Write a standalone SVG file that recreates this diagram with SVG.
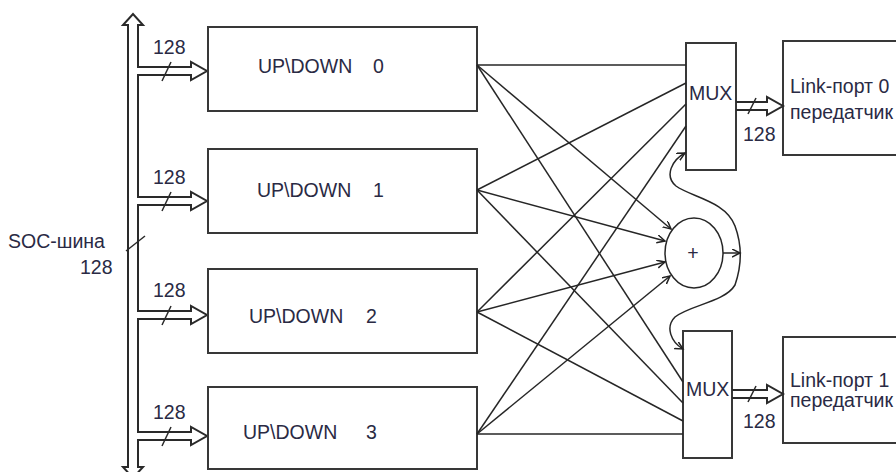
<svg xmlns="http://www.w3.org/2000/svg" width="896" height="472" viewBox="0 0 896 472">
<style>
.box{fill:#fff;stroke:#383838;stroke-width:2}
.t{font-family:"Liberation Sans",Arial,sans-serif;font-size:19.5px;fill:#2a2a44}
.w{fill:none;stroke:#262626;stroke-width:1.5}
.bus{fill:none;stroke:#2a2a2a;stroke-width:2;stroke-linejoin:miter}
.tick{stroke:#2a2a2a;stroke-width:1.5}
</style>
<defs>
<marker id="v" markerWidth="12" markerHeight="12" refX="8" refY="4" orient="auto-start-reverse" markerUnits="userSpaceOnUse">
<path d="M0,0 L8,4 L0,8" fill="none" stroke="#222" stroke-width="1.5"/>
</marker>
</defs>
<rect x="0" y="0" width="896" height="472" fill="#fff"/>

<g id="soc-bus">
<path class="bus" d="M128,467 L128,25 L123,25 L133,14 L143,25 L138,25 L138,67 L191,67 L191,62 L207,71 L191,80 L191,75 L138,75 L138,197 L191,197 L191,192 L207,201 L191,210 L191,205 L138,205 L138,311 L191,311 L191,306 L207,315 L191,324 L191,319 L138,319 L138,432 L191,432 L191,427 L207,436 L191,445 L191,440 L138,440 L138,467 L143,467 L133,478 L123,467 Z"/>
<line class="tick" x1="126" y1="251" x2="145" y2="236"/>
<line class="tick" x1="162" y1="81" x2="171" y2="62"/>
<line class="tick" x1="162" y1="211" x2="171" y2="192"/>
<line class="tick" x1="162" y1="325" x2="171" y2="306"/>
<line class="tick" x1="162" y1="446" x2="171" y2="427"/>
<text class="t" x="8" y="248">SOC-шина</text>
<text class="t" x="80" y="274">128</text>
<text class="t" x="153" y="54">128</text>
<text class="t" x="153" y="184">128</text>
<text class="t" x="153" y="297">128</text>
<text class="t" x="153" y="419">128</text>
</g>

<g id="updown0"><rect class="box" x="208" y="27" width="269" height="84"/><text class="t" x="258" y="73">UP\DOWN<tspan x="373">0</tspan></text></g>
<g id="updown1"><rect class="box" x="208" y="149" width="269" height="84"/><text class="t" x="257" y="197">UP\DOWN<tspan x="373">1</tspan></text></g>
<g id="updown2"><rect class="box" x="208" y="269" width="269" height="84"/><text class="t" x="249" y="323">UP\DOWN<tspan x="366">2</tspan></text></g>
<g id="updown3"><rect class="box" x="208" y="387" width="269" height="82"/><text class="t" x="243" y="439">UP\DOWN<tspan x="366">3</tspan></text></g>

<g id="mux0"><rect class="box" x="686" y="43" width="50" height="127"/><text class="t" x="689" y="100">MUX</text></g>
<g id="mux1"><rect class="box" x="683" y="331" width="49" height="127"/><text class="t" x="686" y="396">MUX</text></g>

<g id="adder"><ellipse cx="694" cy="253" rx="29" ry="35" fill="#fff" stroke="#262626" stroke-width="1.5"/><text class="t" x="693" y="260" text-anchor="middle">+</text></g>

<g id="link0"><rect class="box" x="783" y="41" width="150" height="114"/><text class="t" x="790" y="93">Link-порт 0</text><text class="t" x="790" y="119">передатчик</text></g>
<g id="link1"><rect class="box" x="783" y="337" width="150" height="106"/><text class="t" x="790" y="387">Link-порт 1</text><text class="t" x="790" y="407">передатчик</text></g>

<g id="connectors">
<path class="w" d="M477,65 L686,65"/>
<path class="w" d="M477,65 L671,229" marker-end="url(#v)"/>
<path class="w" d="M477,65 L683,382"/>
<path class="w" d="M477,190 L686,83"/>
<path class="w" d="M477,190 L665,241" marker-end="url(#v)"/>
<path class="w" d="M477,190 L683,403"/>
<path class="w" d="M477,312 L686,104"/>
<path class="w" d="M477,312 L665,262" marker-end="url(#v)"/>
<path class="w" d="M477,312 L683,421"/>
<path class="w" d="M477,434 L686,126"/>
<path class="w" d="M477,434 L670,276" marker-end="url(#v)"/>
<path class="w" d="M477,434 L683,434"/>
<path class="w" d="M723,253 L740,253" marker-end="url(#v)"/>
<path class="w" d="M685,153 C672,160 664,176 676,186 C691,197 726,201 735,226 C742,245 742,265 735,285 C725,302 690,305 675,317 C665,327 671,342 683,349" marker-start="url(#v)" marker-end="url(#v)"/>
<path class="bus" d="M736,102 L767,102 L767,97 L783,106 L767,115 L767,110 L736,110"/>
<line class="tick" x1="748" y1="114" x2="756" y2="98"/>
<text class="t" x="743" y="141">128</text>
<path class="bus" d="M732,390 L767,390 L767,385 L783,394 L767,403 L767,398 L732,398"/>
<line class="tick" x1="748" y1="402" x2="756" y2="386"/>
<text class="t" x="743" y="428">128</text>
</g>
</svg>
